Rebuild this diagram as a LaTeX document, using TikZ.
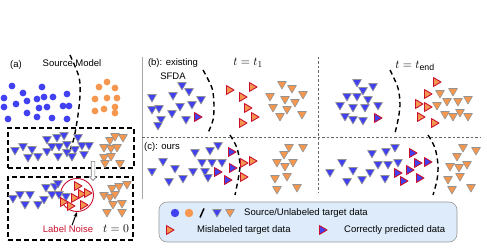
\documentclass[tikz,border=0pt]{standalone}
\usepackage{fontspec}
\setmainfont{Liberation Sans}
\usetikzlibrary{shapes.arrows, arrows.meta}
\definecolor{srcB}{HTML}{4141F2}
\definecolor{tgtO}{HTML}{F5974F}
\definecolor{noiseR}{HTML}{C8102E}
\definecolor{edgeG}{HTML}{939393}
\definecolor{legB}{HTML}{DDEBFA}
\tikzset{
  pics/dtri/.style={code={\filldraw[fill=#1,draw=edgeG,line width=0.6pt,line join=round]
     (-4.4,-3.5) -- (4.4,-3.5) -- (0,4) -- cycle;}},
  pics/rtri/.style={code={\filldraw[fill=#1,draw=noiseR,line width=0.9pt,line join=round]
     (-3.5,-4.4) -- (4,0) -- (-3.5,4.4) -- cycle;}},
  sepcurve/.style={line width=1.4pt, dash pattern=on 5pt off 3.5pt},
  boxline/.style={line width=1.1pt, dash pattern=on 5pt off 3pt},
  grid/.style={gray!80!black, line width=0.6pt, dash pattern=on 2.5pt off 2pt},
  lbl/.style={font=\fontsize{9.5}{13.5}\selectfont, inner sep=0pt},
  mlbl/.style={font=\fontsize{12.5}{14}\selectfont, inner sep=0pt},
}

\begin{document}
\begin{tikzpicture}[x=1pt,y=-1pt]
  \useasboundingbox (0,0) rectangle (487,248);
  % panel frame lines
  \draw[gray!70, line width=0.7pt] (142,57) -- (142,199);
  \draw[grid] (318,57) -- (318,193);
  \draw[grid] (142,137) -- (481,137);
  % (a) source model
  \foreach \x/\y in {12/86,23/93,42/87,4/98,16/104,27/101,37/99,44/97,53/97,67/94,
                     4/107,27/113,39/108,47/107,63/106,69/106,8/119,37/117,52/118,67/119}{
     \fill[srcB] (\x,\y) circle (3.4);
  }
  \foreach \x/\y in {99/87,107/82,115/88,95/99,107/98,117/98,95/111,104/109,115/107,115/113}{
     \fill[tgtO] (\x,\y) circle (3.4);
  }
  \draw[sepcurve] plot[smooth] coordinates {(70,55) (79,77) (80,95) (78,115) (74,138) (69,153)};
  \node[lbl] (tagA) at (16,65) {(a)};
  \node[lbl] (srcmodel) at (72,63) {Source Model};
  % (a) target boxes
  \node[draw, boxline, minimum width=126pt, minimum height=40pt, inner sep=0pt]
     (boxone) at (71,148) {};
  \node[draw, boxline, minimum width=125pt, minimum height=63pt, inner sep=0pt]
     (boxtwo) at (70.5,208.5) {};
  \foreach \x/\y in {15/151,23/147,32/150,28/158,38/157,47/140,47/152,52/147,57/138,64/136,
                     59/147,67/145,58/157,67/153,72/157,78/138,82/146,89/146,75/150,84/155}{
     \pic at (\x,\y) {dtri=srcB};
  }
  \foreach \x/\y in {110/141,115/137,123/138,104/148,111/149,117/148,104/158,111/157,105/164,120/164}{
     \pic at (\x,\y) {dtri=tgtO};
  }
  \node[single arrow, draw=gray, fill=white, rotate=-90, minimum height=19pt,
     inner sep=1.5pt, single arrow head extend=2pt, line width=0.6pt] (advance) at (93,170) {};
  \node[circle, draw=noiseR, line width=0.9pt, minimum size=33pt] (noisering) at (77,195) {};
  \foreach \x/\y in {13/199,20/195,25/205,30/195,38/205,44/200,46/188,52/195,55/187,58/184,59/195,66/197}{
     \pic at (\x,\y) {dtri=srcB};
  }
  \foreach \x/\y in {78/186,82/194,88/193,75/198,84/205,64/202,71/206}{
     \pic at (\x,\y) {rtri=tgtO};
  }
  \foreach \x/\y in {104/196,112/189,119/187,127/185,110/198,115/195,113/205,122/204,107/213,122/213}{
     \pic at (\x,\y) {dtri=tgtO};
  }
  \node[lbl, text=noiseR] (noise) at (68,229) {Label Noise};
  \draw[-{Stealth[length=5pt]}, line width=1pt] ([xshift=4pt]noise.north) -- (noisering.south);
  \node[mlbl] (tzero) at (116,229) {$t=0$};
  % (b) existing SFDA
  \node[lbl, align=center] (tagB) at (173,69) {(b): existing\\SFDA};
  \node[mlbl] (tone) at (248,63) {$t=t_1$};
  \node[mlbl] (tend) at (415,66) {$t=t_{\rm end}$};
  \draw[sepcurve] plot[smooth] coordinates {(203,70) (212,88) (214,105) (213,120) (208,133)};
  \draw[sepcurve] plot[smooth] coordinates {(390,70) (398,88) (400,105) (398,120) (395,133)};
  \foreach \x/\y in {182/86,189/92,173/96,152/98,201/100,180/107,192/105,152/110,159/109,
                     172/114,186/120,161/120,158/126,
                     357/83,373/87,363/91,347/97,357/97,368/100,340/106,353/108,365/108,
                     378/106,345/117,353/120,363/121}{
     \pic at (\x,\y) {dtri=srcB};
  }
  \foreach \x/\y in {198/117,378/118}{ \pic at (\x,\y) {rtri=srcB}; }
  \foreach \x/\y in {230/90,253/87,243/97,248/108,255/117,243/123,
                     437/82,428/94,419/104,428/107,421/117,435/123}{
     \pic at (\x,\y) {rtri=tgtO};
  }
  \foreach \x/\y in {282/85,292/89,270/97,285/100,303/95,273/108,287/110,295/103,302/115,280/117,
                     440/94,453/92,447/102,458/102,468/100,437/106,445/115,453/117,460/113,468/117}{
     \pic at (\x,\y) {dtri=tgtO};
  }
  % (c) ours
  \node[lbl, anchor=west] (tagC) at (144,147) {(c): ours};
  \draw[sepcurve] plot[smooth] coordinates {(230,135) (237,148) (240,165) (238,180) (235,195)};
  \draw[sepcurve] plot[smooth] coordinates {(428,135) (435,148) (438,165) (437,180) (433,195)};
  \foreach \x/\y in {195/153,210/151,218/146,163/162,202/163,212/163,222/163,152/172,175/169,
                     193/172,205/172,169/182,183/179,208/178,
                     395/148,386/152,372/154,342/163,378/165,388/165,398/163,330/173,353/171,
                     370/173,347/182,362/180,385/179}{
     \pic at (\x,\y) {dtri=srcB};
  }
  \foreach \x/\y in {232/152,218/172,233/168,228/180,
                     413/153,418/163,428/162,410/170,398/173,404/181,420/178}{
     \pic at (\x,\y) {rtri=srcB};
  }
  \foreach \x/\y in {244/163,253/161,244/177}{ \pic at (\x,\y) {rtri=tgtO}; }
  \foreach \x/\y in {289/148,303/148,284/155,277/163,285/167,293/163,275/179,287/177,277/190,297/188,
                     463/148,476/151,457/157,450/167,459/168,467/165,448/180,460/177,452/190,471/188}{
     \pic at (\x,\y) {dtri=tgtO};
  }
  % legend
  \node[draw=gray!80, fill=legB, rounded corners=8pt, line width=0.6pt,
     minimum width=298pt, minimum height=40pt] (legend) at (308,222) {};
  \fill[srcB] (175,213) circle (4.2);
  \fill[tgtO] (189,213) circle (4.2);
  \draw[line width=1.5pt] (200,217.5) -- (204,208.5);
  \pic at (217,213) {dtri=srcB};
  \pic at (230,213) {dtri=tgtO};
  \node[lbl, anchor=west] (legsrc) at (244,213) {Source/Unlabeled target data};
  \pic at (170,230) {rtri=tgtO};
  \node[lbl, anchor=west] (legmis) at (197,230) {Mislabeled target data};
  \pic at (323,230) {rtri=srcB};
  \node[lbl, anchor=west] (legok) at (344,230) {Correctly predicted data};
\end{tikzpicture}
\end{document}
